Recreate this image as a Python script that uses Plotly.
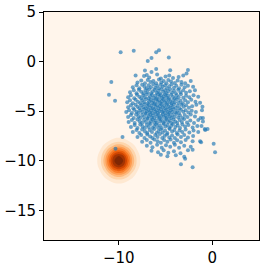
import numpy as np
import plotly.graph_objects as go

# ---- density field (Gaussian blob near (-10, -10)), radial profile
blob_offsets = [-3.0, -2.5, -2.0, -1.5, -1.0, -0.5, 0.0, 0.5, 1.0, 1.5, 2.0, 2.5, 3.0]
blob_profile = [0.017, 0.059, 0.163, 0.360, 0.635, 0.893, 1.0, 0.893, 0.635, 0.360, 0.163, 0.059, 0.017]
blob_center = (-10.0, -10.0)

# ---- scatter points
points = [
    # sparse outliers
    (-9.8, 0.95), (-8.4, 1.1), (-6.0, 0.95), (-5.7, 1.15), (-4.65, 0.4), (-6.9, 0.05), (-6.5, 0.35),
    (-6.0, -0.75), (-6.5, -1.05), (-7.2, -0.9), (-4.5, -0.87), (-2.6, -0.85), (-10.8, -2.05),
    (-11.05, -3.35), (-10.4, -3.95), (-9.6, -7.6), (-10.35, -8.8), (-3.35, -10.35), (-2.1, -10.65),
    (0.15, -8.3), (0.3, -9.15), (-0.5, -6.8), (-0.75, -6.9), (-1.0, -5.7), (-1.15, -6.5),
    (-1.3, -8.05), (-1.2, -8.15), (-2.9, -9.8), (-2.1, -8.9),
    # y ~ -1.5
    (-8.2, -1.4), (-7.3, -1.45), (-7.0, -1.35), (-6.75, -1.6), (-5.9, -1.3), (-5.5, -1.7), (-5.0, -1.5),
    (-4.6, -1.4), (-4.2, -1.65), (-3.6, -1.55), (-3.1, -1.4), (-2.75, -1.2),
    # y ~ -2.0
    (-8.0, -2.1), (-7.6, -1.9), (-7.2, -2.2), (-6.9, -1.85), (-6.6, -2.05), (-6.3, -1.95), (-6.0, -2.2),
    (-5.7, -1.8), (-5.45, -2.1), (-5.2, -1.95), (-4.9, -2.2), (-4.7, -1.85), (-4.4, -2.0), (-4.0, -2.15),
    (-3.7, -1.9), (-3.3, -2.05), (-2.9, -2.2), (-2.3, -1.95),
    # y ~ -2.5
    (-8.5, -2.6), (-8.1, -2.4), (-7.8, -2.7), (-7.5, -2.35), (-7.25, -2.55), (-7.0, -2.7), (-6.8, -2.4),
    (-6.55, -2.6), (-6.3, -2.3), (-6.1, -2.65), (-5.9, -2.45), (-5.7, -2.7), (-5.5, -2.35), (-5.3, -2.55),
    (-5.05, -2.4), (-4.85, -2.7), (-4.6, -2.5), (-4.35, -2.3), (-4.1, -2.65), (-3.85, -2.45), (-3.55, -2.7),
    (-3.3, -2.35), (-2.95, -2.6), (-2.6, -2.45), (-2.05, -2.55),
    # y ~ -3.0
    (-8.8, -3.1), (-8.4, -2.9), (-8.1, -3.2), (-7.85, -2.85), (-7.6, -3.05), (-7.35, -3.2), (-7.15, -2.9),
    (-6.95, -3.1), (-6.75, -2.8), (-6.55, -3.2), (-6.35, -3.0), (-6.15, -2.85), (-5.95, -3.15), (-5.8, -2.95),
    (-5.6, -3.2), (-5.45, -2.8), (-5.25, -3.05), (-5.05, -2.9), (-4.9, -3.2), (-4.7, -3.0), (-4.5, -2.8),
    (-4.3, -3.15), (-4.1, -2.95), (-3.9, -3.2), (-3.65, -2.85), (-3.4, -3.1), (-3.1, -2.9), (-2.8, -3.15),
    (-2.4, -3.0), (-1.85, -2.9),
    # y ~ -3.5
    (-9.0, -3.6), (-8.7, -3.4), (-8.35, -3.7), (-8.05, -3.35), (-7.8, -3.55), (-7.6, -3.7), (-7.4, -3.4),
    (-7.2, -3.6), (-7.0, -3.3), (-6.8, -3.7), (-6.65, -3.5), (-6.45, -3.35), (-6.3, -3.65), (-6.1, -3.45),
    (-5.95, -3.7), (-5.8, -3.3), (-5.65, -3.55), (-5.5, -3.4), (-5.35, -3.7), (-5.2, -3.5), (-5.05, -3.3),
    (-4.9, -3.6), (-4.75, -3.45), (-4.6, -3.7), (-4.4, -3.35), (-4.2, -3.55), (-4.0, -3.7), (-3.8, -3.4),
    (-3.6, -3.6), (-3.35, -3.3), (-3.1, -3.65), (-2.8, -3.45), (-2.45, -3.6), (-2.0, -3.4), (-1.5, -3.55),
    # y ~ -4.0
    (-9.1, -4.1), (-8.8, -3.9), (-8.5, -4.2), (-8.2, -3.85), (-7.95, -4.05), (-7.7, -4.2), (-7.5, -3.9),
    (-7.3, -4.1), (-7.1, -3.8), (-6.9, -4.2), (-6.75, -4.0), (-6.6, -3.85), (-6.45, -4.15), (-6.3, -3.95),
    (-6.15, -4.2), (-6.0, -3.8), (-5.85, -4.05), (-5.7, -3.9), (-5.55, -4.2), (-5.4, -4.0), (-5.25, -3.8),
    (-5.1, -4.1), (-4.95, -3.95), (-4.8, -4.2), (-4.65, -3.85), (-4.5, -4.05), (-4.35, -4.2), (-4.2, -3.9),
    (-4.0, -4.1), (-3.8, -3.8), (-3.6, -4.15), (-3.4, -3.95), (-3.15, -4.2), (-2.9, -3.9), (-2.6, -4.1),
    (-2.25, -3.85), (-1.8, -4.05), (-1.3, -4.15),
    # y ~ -4.5
    (-9.0, -4.6), (-8.7, -4.4), (-8.45, -4.7), (-8.2, -4.35), (-8.0, -4.55), (-7.8, -4.7), (-7.6, -4.4),
    (-7.4, -4.6), (-7.25, -4.3), (-7.1, -4.7), (-6.95, -4.5), (-6.8, -4.35), (-6.65, -4.65), (-6.5, -4.45),
    (-6.35, -4.7), (-6.2, -4.3), (-6.05, -4.55), (-5.9, -4.4), (-5.75, -4.7), (-5.6, -4.5), (-5.45, -4.3),
    (-5.3, -4.6), (-5.15, -4.45), (-5.0, -4.7), (-4.85, -4.35), (-4.7, -4.55), (-4.55, -4.7), (-4.4, -4.4),
    (-4.25, -4.6), (-4.1, -4.3), (-3.9, -4.65), (-3.7, -4.45), (-3.5, -4.7), (-3.3, -4.35), (-3.05, -4.55),
    (-2.8, -4.4), (-2.5, -4.65), (-2.15, -4.5), (-1.7, -4.35), (-1.05, -4.55),
    # y ~ -5.0
    (-9.2, -5.1), (-8.9, -4.9), (-8.6, -5.2), (-8.35, -4.85), (-8.1, -5.05), (-7.9, -5.2), (-7.7, -4.9),
    (-7.5, -5.1), (-7.3, -4.8), (-7.15, -5.2), (-7.0, -5.0), (-6.85, -4.85), (-6.7, -5.15), (-6.55, -4.95),
    (-6.4, -5.2), (-6.25, -4.8), (-6.1, -5.05), (-5.95, -4.9), (-5.8, -5.2), (-5.65, -5.0), (-5.5, -4.8),
    (-5.35, -5.1), (-5.2, -4.95), (-5.05, -5.2), (-4.9, -4.85), (-4.75, -5.05), (-4.6, -5.2), (-4.45, -4.9),
    (-4.3, -5.1), (-4.15, -4.8), (-3.95, -5.15), (-3.75, -4.95), (-3.55, -5.2), (-3.35, -4.85), (-3.1, -5.05),
    (-2.85, -4.9), (-2.55, -5.15), (-2.2, -4.95), (-1.75, -5.1), (-1.1, -4.9),
    # y ~ -5.5
    (-9.0, -5.6), (-8.7, -5.4), (-8.4, -5.7), (-8.15, -5.35), (-7.9, -5.55), (-7.7, -5.7), (-7.5, -5.4),
    (-7.3, -5.6), (-7.1, -5.3), (-6.95, -5.7), (-6.8, -5.5), (-6.65, -5.35), (-6.5, -5.65), (-6.35, -5.45),
    (-6.2, -5.7), (-6.05, -5.3), (-5.9, -5.55), (-5.75, -5.4), (-5.6, -5.7), (-5.45, -5.5), (-5.3, -5.3),
    (-5.15, -5.6), (-5.0, -5.45), (-4.85, -5.7), (-4.7, -5.35), (-4.55, -5.55), (-4.4, -5.7), (-4.25, -5.4),
    (-4.05, -5.6), (-3.85, -5.3), (-3.65, -5.65), (-3.45, -5.45), (-3.2, -5.7), (-2.95, -5.4), (-2.65, -5.6),
    (-2.3, -5.35), (-1.85, -5.55), (-1.25, -5.7),
    # y ~ -6.0
    (-8.95, -6.1), (-8.6, -5.9), (-8.3, -6.2), (-8.0, -5.85), (-7.75, -6.05), (-7.5, -6.2), (-7.3, -5.9),
    (-7.1, -6.1), (-6.9, -5.8), (-6.75, -6.2), (-6.55, -6.0), (-6.4, -5.85), (-6.2, -6.15), (-6.05, -5.95),
    (-5.9, -6.2), (-5.7, -5.8), (-5.55, -6.05), (-5.4, -5.9), (-5.2, -6.2), (-5.05, -6.0), (-4.9, -5.8),
    (-4.7, -6.1), (-4.55, -5.95), (-4.35, -6.2), (-4.15, -5.85), (-3.95, -6.05), (-3.75, -6.2), (-3.5, -5.9),
    (-3.25, -6.1), (-3.0, -5.8), (-2.7, -6.15), (-2.35, -5.95), (-1.95, -6.2), (-1.5, -5.9), (-1.0, -6.05),
    # y ~ -6.5
    (-8.7, -6.6), (-8.3, -6.4), (-8.0, -6.7), (-7.7, -6.35), (-7.45, -6.55), (-7.2, -6.7), (-7.0, -6.4),
    (-6.8, -6.6), (-6.6, -6.3), (-6.4, -6.7), (-6.2, -6.5), (-6.0, -6.35), (-5.8, -6.65), (-5.6, -6.45),
    (-5.4, -6.7), (-5.2, -6.3), (-5.0, -6.55), (-4.8, -6.4), (-4.6, -6.7), (-4.4, -6.5), (-4.2, -6.3),
    (-3.95, -6.6), (-3.7, -6.45), (-3.45, -6.7), (-3.2, -6.35), (-2.9, -6.55), (-2.55, -6.4), (-2.1, -6.65),
    (-1.6, -6.5), (-0.8, -6.8),
    # y ~ -7.0
    (-8.5, -7.1), (-8.1, -6.9), (-7.8, -7.2), (-7.5, -6.85), (-7.2, -7.05), (-6.95, -7.2), (-6.7, -6.9),
    (-6.45, -7.1), (-6.2, -6.8), (-5.95, -7.2), (-5.75, -7.0), (-5.5, -6.85), (-5.3, -7.15), (-5.05, -6.95),
    (-4.8, -7.2), (-4.55, -6.8), (-4.3, -7.05), (-4.05, -6.9), (-3.8, -7.2), (-3.5, -6.95), (-3.2, -7.1),
    (-2.85, -6.85), (-2.45, -7.15), (-2.0, -6.95), (-1.5, -7.1),
    # y ~ -7.5
    (-8.0, -7.6), (-7.6, -7.4), (-7.25, -7.7), (-6.95, -7.35), (-6.65, -7.55), (-6.4, -7.7), (-6.1, -7.4),
    (-5.85, -7.6), (-5.6, -7.3), (-5.35, -7.7), (-5.1, -7.5), (-4.85, -7.35), (-4.6, -7.65), (-4.3, -7.45),
    (-4.0, -7.7), (-3.7, -7.35), (-3.35, -7.6), (-3.0, -7.4), (-2.6, -7.65), (-2.05, -7.5),
    # y ~ -8.0
    (-7.5, -8.1), (-7.0, -7.9), (-6.6, -8.2), (-6.2, -7.85), (-5.85, -8.05), (-5.5, -8.2), (-5.15, -7.9),
    (-4.8, -8.1), (-4.45, -7.85), (-4.1, -8.2), (-3.75, -7.95), (-3.35, -8.15), (-2.85, -7.9), (-2.1, -8.05),
    # y ~ -8.5 .. -9.5
    (-7.0, -8.5), (-6.4, -8.65), (-5.9, -8.4), (-5.4, -8.7), (-4.95, -8.45), (-4.5, -8.6), (-4.0, -8.4),
    (-3.55, -8.7), (-3.0, -8.5), (-2.3, -8.6),
    (-6.5, -9.0), (-5.8, -9.15), (-5.2, -8.95), (-4.7, -9.2), (-4.1, -9.05), (-3.4, -9.25), (-2.6, -8.95),
    (-5.5, -9.4), (-4.8, -9.55), (-3.9, -9.45), (-3.0, -9.6),
]
scatter_x = [p[0] for p in points]
scatter_y = [p[1] for p in points]

x_ticks = [-10, 0]
x_tick_labels = ["\u221210", "0"]
y_ticks = [5, 0, -5, -10, -15]
y_tick_labels = ["5", "0", "\u22125", "\u221210", "\u221215"]
axis_range = [-18, 5]

# ---- build density table from the profile
grid_x = [axis_range[0], blob_center[0] - 3.5] + [blob_center[0] + o for o in blob_offsets] + [blob_center[0] + 3.5, axis_range[1]]
grid_y = [axis_range[0], blob_center[1] - 3.5] + [blob_center[1] + o for o in blob_offsets] + [blob_center[1] + 3.5, axis_range[1]]
prof = np.array([0.0, 0.0] + blob_profile + [0.0, 0.0])
z = np.outer(prof, prof)

oranges = [[0.0, '#fff5eb'], [0.125, '#fee6ce'], [0.25, '#fdd0a2'], [0.375, '#fdae6b'],
           [0.5, '#fd8d3c'], [0.625, '#f16913'], [0.75, '#d94801'], [0.875, '#a63603'], [1.0, '#7f2704']]

fig = go.Figure()
fig.add_trace(go.Contour(
    x=grid_x, y=grid_y, z=z,
    colorscale=oranges, showscale=False,
    contours=dict(start=0.1, end=0.9, size=0.1, coloring='fill', showlines=False),
    line=dict(width=0), hoverinfo='skip',
))
fig.add_trace(go.Scatter(
    x=scatter_x, y=scatter_y, mode='markers',
    marker=dict(color='#1f77b4', size=4, opacity=0.66, line=dict(width=0)),
))

axis_common = dict(
    range=axis_range, showgrid=False, zeroline=False, showline=True, linecolor='black', linewidth=1,
    mirror=True, ticks='outside', ticklen=4, tickwidth=1, tickcolor='black', automargin=False,
    tickfont=dict(family='DejaVu Sans', size=15, color='black'),
)
fig.update_xaxes(tickvals=x_ticks, ticktext=x_tick_labels, **axis_common)
fig.update_yaxes(tickvals=y_ticks, ticktext=y_tick_labels, **axis_common)
fig.update_layout(
    template='none',
    width=266, height=268, margin=dict(l=44, r=7, t=12, b=28, pad=0),
    paper_bgcolor='white', plot_bgcolor='white', showlegend=False,
)
fig.write_html("out.html", config={'displayModeBar': False},
               post_script="document.body.style.margin='0';document.body.style.overflow='hidden';")
